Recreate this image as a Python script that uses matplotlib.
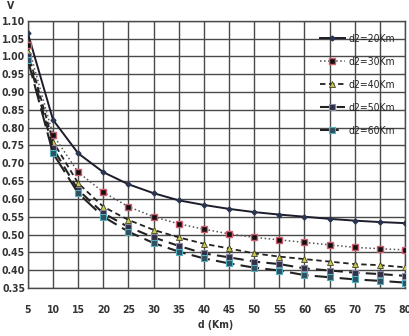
import numpy as np
import matplotlib
matplotlib.use('Agg')
import matplotlib.pyplot as plt

# 字体: 窄体加粗, 模仿原图
plt.rcParams['font.family'] = ['Liberation Sans Narrow', 'DejaVu Sans']
plt.rcParams['font.stretch'] = 'condensed'

d = [5, 10, 15, 20, 25, 30, 35, 40, 45, 50, 55, 60, 65, 70, 75, 80]

v_20 = [1.065, 0.822, 0.728, 0.675, 0.641, 0.616, 0.596, 0.583, 0.572, 0.563,
        0.556, 0.550, 0.544, 0.539, 0.535, 0.532]
v_30 = [1.033, 0.780, 0.675, 0.619, 0.578, 0.550, 0.530, 0.515, 0.502, 0.492,
        0.485, 0.478, 0.471, 0.464, 0.460, 0.457]
v_40 = [1.012, 0.761, 0.644, 0.578, 0.541, 0.513, 0.492, 0.474, 0.461, 0.447,
        0.438, 0.431, 0.424, 0.417, 0.414, 0.408]
v_50 = [1.000, 0.742, 0.625, 0.560, 0.521, 0.492, 0.468, 0.447, 0.436, 0.424,
        0.417, 0.405, 0.399, 0.393, 0.389, 0.384]
v_60 = [0.990, 0.728, 0.616, 0.550, 0.508, 0.476, 0.452, 0.433, 0.419, 0.407,
        0.399, 0.386, 0.380, 0.374, 0.370, 0.365]

labels = ['d2=20Km', 'd2=30Km', 'd2=40Km', 'd2=50Km', 'd2=60Km']

fig = plt.figure(figsize=(4.1, 3.36), dpi=100)
ax = fig.add_axes([0.068, 0.143, 0.920, 0.795])

# 画线
ax.plot(d, v_20, '-', color='#1c1c2a', lw=1.4, marker='D', ms=2.5,
        mfc='#2a3550', mec='#2a3550', label=labels[0], zorder=3)
ax.plot(d, v_30, ':', color='#555555', lw=1.1, marker='s', ms=5,
        mfc='#111111', mec='#d06070', mew=1, label=labels[1], zorder=3)
ax.plot(d, v_40, '--', color='#222222', lw=1.3, dashes=(3, 2), marker='^', ms=4,
        mfc='#c8c850', mec='#444422', mew=0.6, label=labels[2], zorder=3)
ax.plot(d, v_50, '--', color='#222222', lw=1.5, dashes=(5, 3), marker='s', ms=4.5,
        mfc='#303048', mec='#8888a0', mew=0.8, label=labels[3], zorder=3)
ax.plot(d, v_60, '--', color='#222222', lw=1.5, dashes=(9, 3), marker='s', ms=4.5,
        mfc='#305060', mec='#50b0c0', mew=0.8, label=labels[4], zorder=3)

ax.set_xlim(5, 80)
ax.set_ylim(0.35, 1.10)
yt = np.arange(0.35, 1.101, 0.05)
ax.set_xticks(np.arange(5, 81, 5))
ax.set_yticks(yt)
ax.set_yticklabels(['%.2f' % y for y in yt])
ax.tick_params(length=0, labelsize=7.5, pad=2)
ax.tick_params(axis='x', pad=12)
for t in ax.get_xticklabels() + ax.get_yticklabels():
    t.set_fontweight('bold')
    t.set_color('#333333')

# 网格
ax.xaxis.grid(True, which='major', color='#4a4a4a', linewidth=1.0)
ax.yaxis.grid(True, which='major', color='#4a4a4a', linewidth=1.0)
ax.set_axisbelow(True)
for s in ax.spines.values():
    s.set_color('#4a4a4a')
    s.set_linewidth(1.0)

fig.text(0.018, 0.998, 'V', ha='left', va='top', fontsize=7.5, fontweight='bold', color='#333333')
fig.text(0.525, 0.018, 'd (Km)', ha='center', va='bottom', fontsize=7.5, fontweight='bold', color='#333333')

leg = ax.legend(loc='upper right', bbox_to_anchor=(1.008, 1.003), fontsize=7.5,
                labelspacing=1.25, handlelength=2.4, handletextpad=0.3,
                borderpad=0.8, fancybox=False, framealpha=0, edgecolor='#4a4a4a')
leg.get_frame().set_linewidth(1.0)
for t in leg.get_texts():
    t.set_color('#222222')

fig.savefig('out.png', dpi=100)
